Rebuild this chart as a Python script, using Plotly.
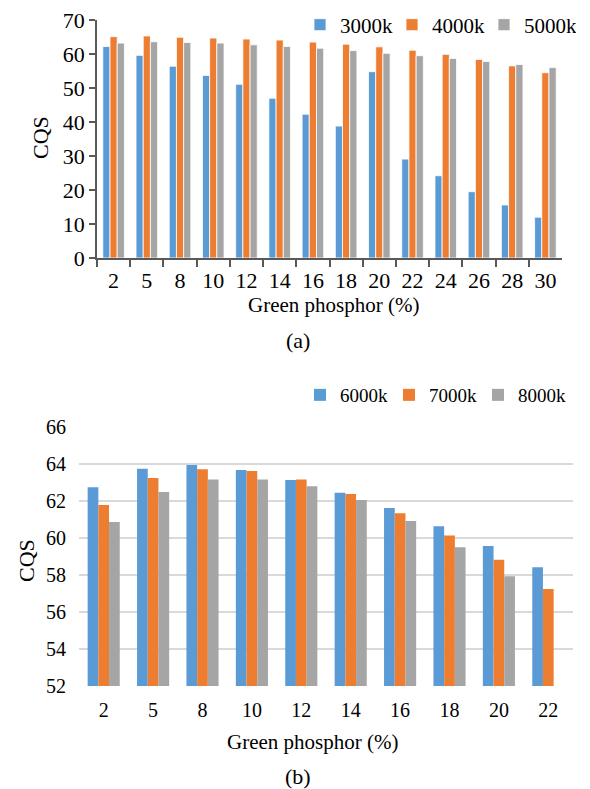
import plotly.graph_objects as go

# ---- Data: panel (a) ----
cats_a = ["2", "5", "8", "10", "12", "14", "16", "18", "20", "22", "24", "26", "28", "30"]
cqs_3000k = [62.2, 59.6, 56.4, 53.7, 51.1, 47.0, 42.3, 38.8, 54.8, 29.1, 24.2, 19.5, 15.6, 12.0]
cqs_4000k = [65.1, 65.3, 64.9, 64.7, 64.4, 64.1, 63.5, 62.9, 62.1, 61.1, 59.9, 58.4, 56.5, 54.5]
cqs_5000k = [63.2, 63.6, 63.4, 63.2, 62.7, 62.2, 61.7, 61.0, 60.2, 59.5, 58.7, 57.8, 56.9, 56.0]

# ---- Data: panel (b) ----
cats_b = ["2", "5", "8", "10", "12", "14", "16", "18", "20", "22"]
cqs_6000k = [62.75, 63.75, 63.95, 63.67, 63.13, 62.45, 61.62, 60.63, 59.57, 58.42]
cqs_7000k = [61.78, 63.25, 63.72, 63.62, 63.16, 62.38, 61.34, 60.13, 58.83, 57.24]
cqs_8000k = [60.87, 62.48, 63.16, 63.16, 62.80, 62.05, 60.92, 59.50, 57.93, None]

yticks_a = [0, 10, 20, 30, 40, 50, 60, 70]
yticks_b = [52, 54, 56, 58, 60, 62, 64, 66]

BLUE, ORANGE, GRAY = "#5B9BD5", "#ED7D31", "#A5A5A5"
FONT = "Liberation Serif"
W, H = 590, 789
OFF = 8  # default page body margin

def px_x(p):
    return (p - OFF) / W

def px_y(p):
    return 1 - (p - OFF) / H

fig = go.Figure()

for name, vals, col in [("3000k", cqs_3000k, BLUE), ("4000k", cqs_4000k, ORANGE), ("5000k", cqs_5000k, GRAY)]:
    fig.add_trace(go.Bar(x=cats_a, y=vals, name=name, marker=dict(color=col, line=dict(color="white", width=0.8)),
                         xaxis="x", yaxis="y", legend="legend"))

for name, vals, col in [("6000k", cqs_6000k, BLUE), ("7000k", cqs_7000k, ORANGE), ("8000k", cqs_8000k, GRAY)]:
    fig.add_trace(go.Bar(x=cats_b, y=vals, name=name, marker=dict(color=col, line=dict(width=0)),
                         xaxis="x2", yaxis="y2", legend="legend2"))

axis_col = "#595959"

fig.update_layout(
    width=W, height=H,
    margin=dict(l=0, r=0, t=0, b=0, autoexpand=False),
    paper_bgcolor="white", plot_bgcolor="white",
    font=dict(family=FONT, color="black", size=20),
    barmode="group", bargap=0.35, bargroupgap=0.0,
    xaxis=dict(domain=[px_x(97), px_x(562)], anchor="y", type="category",
               showline=True, linecolor=axis_col, linewidth=1.5,
               ticks="outside", tickson="boundaries", ticklen=7, tickcolor=axis_col, tickwidth=1.5,
               showgrid=False, tickfont=dict(size=22), ticklabelstandoff=2,
               ticklabeloverflow="allow"),
    yaxis=dict(domain=[px_y(258), px_y(20)], anchor="x", range=[0, 70],
               tickvals=yticks_a, showline=True, linecolor=axis_col, linewidth=1.5,
               ticks="outside", ticklen=6, tickcolor=axis_col, tickwidth=1.5,
               showgrid=False, zeroline=False, tickfont=dict(size=22),
               ticklabeloverflow="allow"),
    xaxis2=dict(domain=[px_x(79), px_x(573)], anchor="y2", type="category",
                showline=False, ticks="", showgrid=False, tickfont=dict(size=20),
                ticklabelstandoff=10, ticklabeloverflow="allow"),
    yaxis2=dict(domain=[px_y(686), px_y(427)], anchor="x2", range=[52, 66],
                tickvals=yticks_b, showline=False, ticks="", showgrid=True,
                gridcolor="#D9D9D9", gridwidth=1.5, zeroline=False, tickfont=dict(size=20),
                ticklabelstandoff=12, ticklabeloverflow="allow"),
    legend=dict(orientation="h", x=px_x(300), y=px_y(25), xanchor="left", yanchor="middle",
                font=dict(size=21), bgcolor="rgba(0,0,0,0)", itemwidth=30,
                entrywidth=47, entrywidthmode="pixels", traceorder="normal"),
    legend2=dict(orientation="h", x=px_x(300), y=px_y(395), xanchor="left", yanchor="middle",
                 font=dict(size=19), bgcolor="rgba(0,0,0,0)", itemwidth=30,
                 entrywidth=44, entrywidthmode="pixels", traceorder="normal"),
    showlegend=True,
)

annotations = [
    dict(text="CQS", x=px_x(40), y=px_y(138), textangle=-90, font=dict(size=22)),
    dict(text="Green phosphor (%)", x=px_x(333), y=px_y(305), font=dict(size=21)),
    dict(text="(a)", x=px_x(298), y=px_y(340), font=dict(size=22)),
    dict(text="CQS", x=px_x(26), y=px_y(561), textangle=-90, font=dict(size=22)),
    dict(text="Green phosphor (%)", x=px_x(312), y=px_y(742), font=dict(size=21)),
    dict(text="(b)", x=px_x(298), y=px_y(776), font=dict(size=22)),
]
for a in annotations:
    a.update(xref="paper", yref="paper", showarrow=False, xanchor="center", yanchor="middle")
fig.update_layout(annotations=annotations)

fig.write_html("out.html")
